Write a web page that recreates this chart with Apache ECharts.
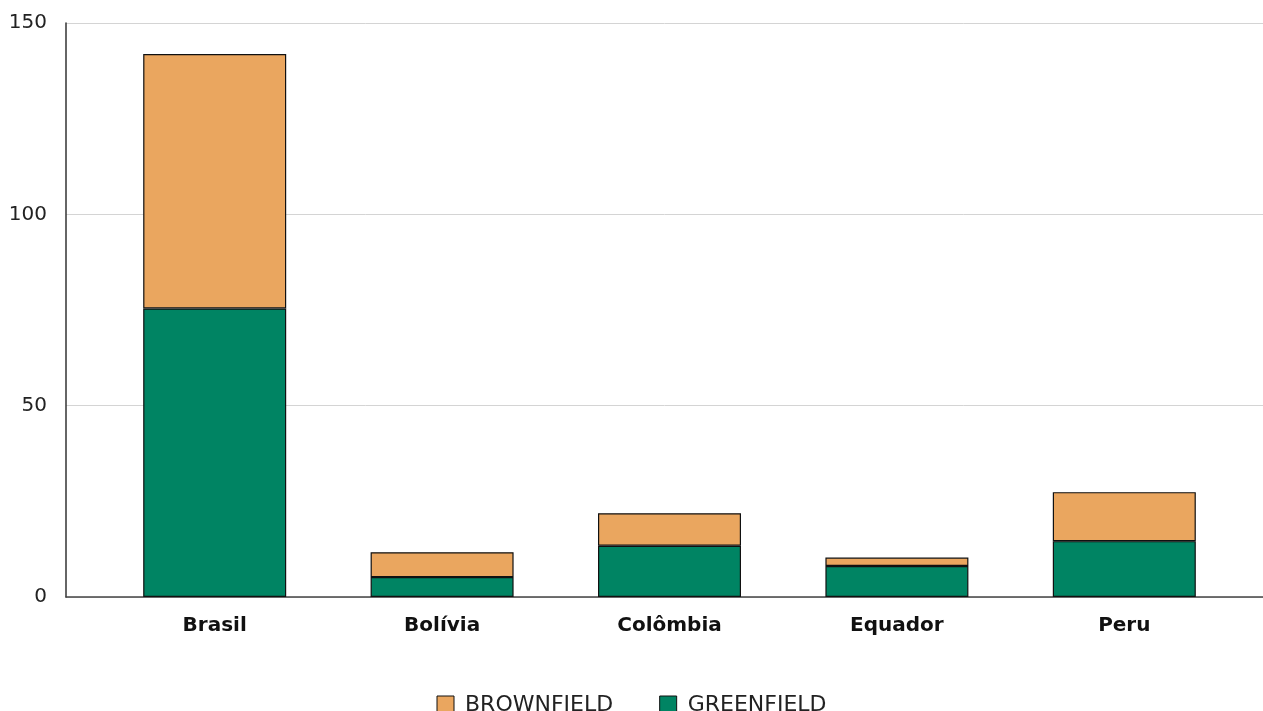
<!DOCTYPE html>
<html><head><meta charset="utf-8">
<script src="https://cdn.jsdelivr.net/npm/echarts@6/dist/echarts.min.js"></script>
<style>html,body{margin:0;padding:0;background:#fff}#c{width:1263px;height:711px}</style>
</head><body><div id="c"></div>
<script>
const categories = ['Brasil', 'Bolívia', 'Colômbia', 'Equador', 'Peru'];
const greenfield = [75.4, 5.2, 13.4, 8.1, 14.6];
const brownfield = [66.5, 6.5, 8.5, 2.2, 12.8];
const yTicks = [0, 50, 100, 150];

const FONT = 'DejaVu Sans';
const chart = echarts.init(document.getElementById('c'), null, {renderer: 'canvas'});
const yMin = yTicks[0], yMax = yTicks[yTicks.length - 1], yStep = yTicks[1] - yTicks[0];

chart.setOption({
  animation: false,
  textStyle: {fontFamily: FONT},
  grid: [
    {left: 66, right: 0, top: 23, bottom: 114},
    {left: 101, right: 25, top: 23, bottom: 114}
  ],
  legend: {
    top: 689, left: 'center', itemWidth: 17, itemHeight: 18, itemGap: 46, icon: 'rect',
    data: ['BROWNFIELD', 'GREENFIELD'],
    textStyle: {fontFamily: FONT, fontSize: 22, color: '#222', padding: [0,0,0,6]},
    itemStyle: {borderColor: '#111', borderWidth: 1}
  },
  xAxis: [
    {gridIndex: 0, type: 'value', min: 0, max: 1, axisLine: {show: true, lineStyle: {color: '#444', width: 1.5}},
     axisTick: {show: false}, axisLabel: {show: false}, splitLine: {show: false}},
    {gridIndex: 1, type: 'category', data: categories, axisLine: {show: false}, axisTick: {show: false},
     axisLabel: {margin: 19, fontFamily: FONT, fontSize: 20, fontWeight: 'bold', color: '#111'}}
  ],
  yAxis: [
    {gridIndex: 0, type: 'value', min: yMin, max: yMax, interval: yStep,
     axisLine: {show: true, lineStyle: {color: '#333', width: 1.5}}, axisTick: {show: false},
     axisLabel: {margin: 19, fontFamily: FONT, fontSize: 20, color: '#222'},
     splitLine: {show: true, lineStyle: {color: '#d4d4d4', width: 1}}},
    {gridIndex: 1, type: 'value', min: yMin, max: yMax, interval: yStep, show: false, splitLine: {show: false}}
  ],
  series: [
    {name: 'GREENFIELD', type: 'bar', stack: 's', xAxisIndex: 1, yAxisIndex: 1, barWidth: 143,
     data: greenfield, itemStyle: {color: '#008463', borderColor: '#111', borderWidth: 1.2}},
    {name: 'BROWNFIELD', type: 'bar', stack: 's', xAxisIndex: 1, yAxisIndex: 1, barWidth: 143,
     data: brownfield, itemStyle: {color: '#EAA65F', borderColor: '#111', borderWidth: 1.2}}
  ]
});
</script></body></html>
